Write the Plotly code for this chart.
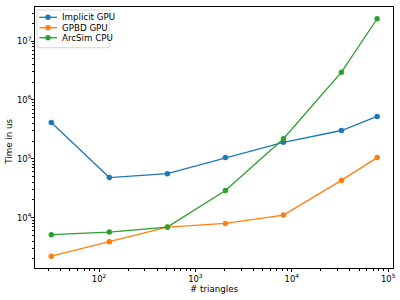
import plotly.graph_objects as go

triangles = [32, 128, 512, 2048, 8192, 32768, 76800]
implicit_gpu = [414000, 48000, 56000, 105000, 191000, 303000, 525000]
gpbd_gpu = [2220, 3900, 6900, 8000, 11100, 43000, 105000]
arcsim_cpu = [5150, 5690, 6920, 29000, 219000, 2970000, 24000000]

names = ["Implicit GPU", "GPBD GPU", "ArcSim CPU"]
colors = ["#1f77b4", "#ff7f0e", "#2ca02c"]

x_tickvals = [1e2, 1e3, 1e4, 1e5]
x_ticktext = ["10<sup>2</sup>", "10<sup>3</sup>", "10<sup>4</sup>", "10<sup>5</sup>"]
y_tickvals = [1e4, 1e5, 1e6, 1e7]
y_ticktext = ["10<sup>4</sup>", "10<sup>5</sup>", "10<sup>6</sup>", "10<sup>7</sup>"]

def minors(lo, hi):
    out = []
    for e in range(lo, hi + 1):
        for m in range(2, 10):
            out.append(m * 10 ** e)
    return out

fig = go.Figure()
for name, ys, c in zip(names, [implicit_gpu, gpbd_gpu, arcsim_cpu], colors):
    fig.add_trace(go.Scatter(x=triangles, y=ys, name=name, mode="lines+markers",
                             line=dict(color=c, width=1.3),
                             marker=dict(color=c, size=5.5), showlegend=False))

font = dict(family="DejaVu Sans", size=8.7, color="black")
tickfont = dict(family="DejaVu Sans", size=8.4, color="black")

# custom matplotlib-like legend (paper coordinates)
shapes = [dict(type="rect", xref="paper", yref="paper", x0=0.0056, x1=0.2075,
               y0=0.844, y1=0.9885, fillcolor="rgba(255,255,255,0.8)",
               line=dict(color="#cccccc", width=0.8), layer="above")]
annotations = []
row_y = [0.9605, 0.9207, 0.8824]
for name, c, ry in zip(names, colors, row_y):
    shapes.append(dict(type="line", xref="paper", yref="paper", x0=0.012, x1=0.0615,
                       y0=ry, y1=ry, line=dict(color=c, width=1.3), layer="above"))
    shapes.append(dict(type="circle", xref="paper", yref="paper",
                       xsizemode="pixel", ysizemode="pixel", xanchor=0.0363, yanchor=ry,
                       x0=-2.75, x1=2.75, y0=-2.75, y1=2.75,
                       fillcolor=c, line=dict(color=c, width=0), layer="above"))
    annotations.append(dict(text=name, xref="paper", yref="paper", x=0.0707, y=ry,
                            xanchor="left", yanchor="middle", showarrow=False,
                            font=font))

# y-axis title
annotations.append(dict(text="Time in us", xref="paper", yref="paper", x=0, y=0.482,
                        xanchor="center", yanchor="middle", xshift=-25.5,
                        textangle=-90, showarrow=False, font=font))

axis_common = dict(type="log", showline=True, linecolor="black", linewidth=0.8,
                   mirror=True, showgrid=False, zeroline=False, ticks="outside",
                   ticklen=3, tickwidth=0.8, tickcolor="black", tickfont=tickfont,
                   automargin=False)

fig.update_layout(
    width=400, height=300,
    margin=dict(l=35, r=7, t=7, b=32),
    paper_bgcolor="white", plot_bgcolor="white",
    font=font,
    showlegend=False,
    shapes=shapes,
    annotations=annotations,
    xaxis=dict(axis_common, range=[1.336, 5.05], tickvals=x_tickvals,
               ticktext=x_ticktext,
               title=dict(text="# triangles", font=font, standoff=1),
               minor=dict(ticks="outside", ticklen=1.7, tickwidth=0.6,
                          tickcolor="black", tickvals=minors(1, 4))),
    yaxis=dict(axis_common, range=[3.145, 7.58], tickvals=y_tickvals,
               ticktext=y_ticktext, ticklabelstandoff=-2,
               minor=dict(ticks="outside", ticklen=1.7, tickwidth=0.6,
                          tickcolor="black", tickvals=minors(3, 7))),
)

fig.write_html("out.html", config={"displayModeBar": False},
               post_script="document.body.style.margin='0';document.body.style.overflow='hidden';")
